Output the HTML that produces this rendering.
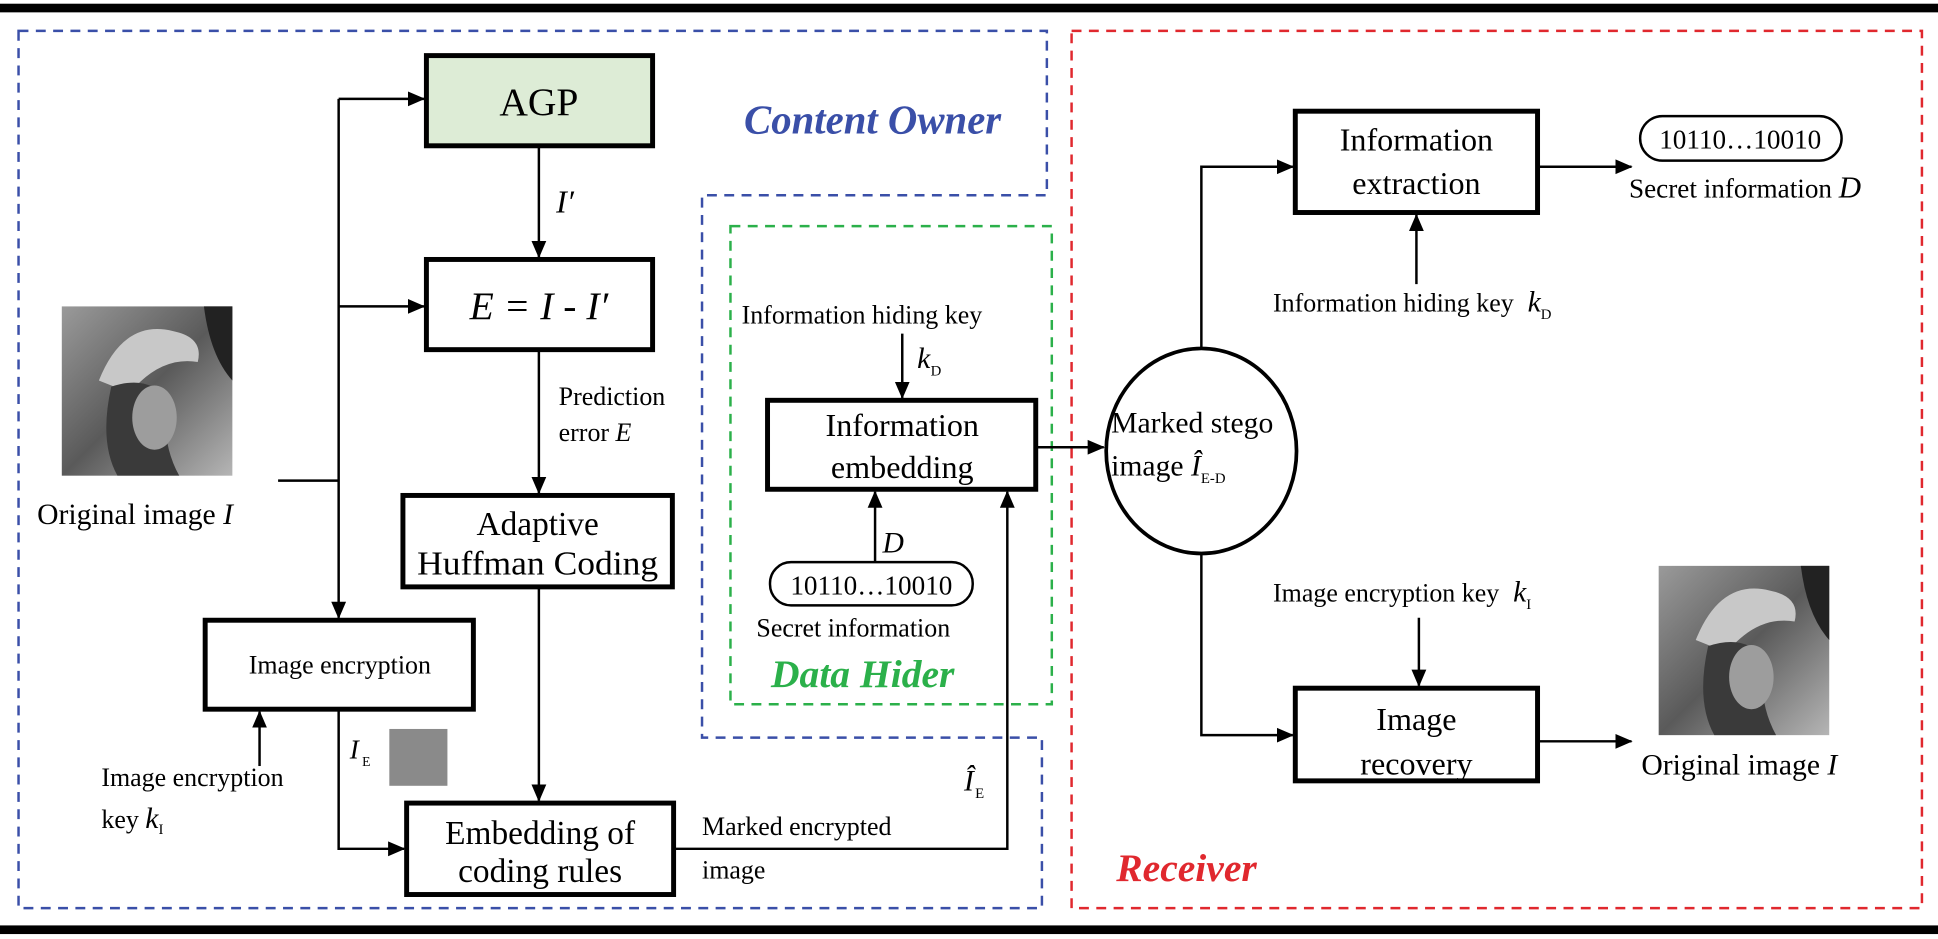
<!DOCTYPE html>
<html><head><meta charset="utf-8"><style>
html,body{margin:0;padding:0;background:#fff;}
svg{display:block;}
text{font-family:"Liberation Serif",serif;fill:#000;}
.it{font-style:italic;}
</style></head><body>
<svg width="1938" height="939" viewBox="0 0 1568 760" preserveAspectRatio="none" xmlns="http://www.w3.org/2000/svg">
<defs>
<marker id="a" markerWidth="14" markerHeight="14" refX="13" refY="7" orient="auto" markerUnits="userSpaceOnUse" viewBox="0 0 14 14"><path d="M0,1 L14,7 L0,13 z" fill="#000"/></marker>
<linearGradient id="lg" x1="0" y1="0" x2="1" y2="1"><stop offset="0" stop-color="#9a9a9a"/><stop offset="0.5" stop-color="#5a5a5a"/><stop offset="1" stop-color="#b5b5b5"/></linearGradient>
<g id="lena">
<rect x="0" y="0" width="138" height="137" fill="url(#lg)"/>
<path d="M30,60 Q50,10 90,20 Q115,25 110,45 Q80,40 55,70 Z" fill="#c8c8c8"/>
<path d="M40,65 Q30,110 45,137 L95,137 Q80,110 85,75 Q70,55 40,65Z" fill="#3a3a3a"/>
<ellipse cx="75" cy="90" rx="18" ry="26" fill="#9d9d9d"/>
<path d="M115,0 L138,0 L138,60 Q120,40 115,0Z" fill="#222"/>
</g>
</defs>
<rect x="0" y="3" width="1568" height="7" fill="#000"/>
<rect x="0" y="749" width="1568" height="7" fill="#000"/>
<path d="M15,25 H847 V158 H568 V597 H843 V735 H15 Z" fill="none" stroke="#3a4fa8" stroke-width="2" stroke-dasharray="8,6"/>
<rect x="867" y="25" width="688" height="710" fill="none" stroke="#e0282e" stroke-width="2" stroke-dasharray="8,6"/>
<rect x="591" y="183" width="260" height="387" fill="none" stroke="#2bb04a" stroke-width="2" stroke-dasharray="8,6"/>
<text x="706" y="108" font-size="33" text-anchor="middle" class="it" font-weight="bold" style="fill:#3a4fa8">Content Owner</text>
<text x="698" y="556" font-size="32" text-anchor="middle" class="it" font-weight="bold" style="fill:#2bb04a">Data Hider</text>
<text x="960" y="713" font-size="32" text-anchor="middle" class="it" font-weight="bold" style="fill:#e0282e">Receiver</text>
<g stroke="#000" stroke-width="4">
<rect x="345" y="45" width="183" height="73" fill="#ddecd6"/>
<rect x="345" y="210" width="183" height="73" fill="#fff"/>
<rect x="326" y="401" width="218" height="74" fill="#fff"/>
<rect x="166" y="502" width="217" height="72" fill="#fff"/>
<rect x="329" y="650" width="216" height="74" fill="#fff"/>
<rect x="621" y="324" width="217" height="72" fill="#fff"/>
<rect x="1048" y="90" width="196" height="82" fill="#fff"/>
<rect x="1048" y="557" width="196" height="75" fill="#fff"/>
</g>
<ellipse cx="972" cy="365" rx="77" ry="83" fill="#fff" stroke="#000" stroke-width="3"/>
<rect x="623" y="455" width="164" height="35" rx="17" fill="#fff" stroke="#000" stroke-width="2"/>
<rect x="1327" y="94" width="163" height="36" rx="18" fill="#fff" stroke="#000" stroke-width="2"/>
<use href="#lena" x="50" y="248"/>
<use href="#lena" x="1342" y="458"/>
<rect x="315" y="590" width="47" height="46" fill="#8a8a8a"/>
<g stroke="#000" stroke-width="2" fill="none">
<path d="M225,389 H274"/>
<path d="M274,80 V500" marker-end="url(#a)"/>
<path d="M274,80 H343" marker-end="url(#a)"/>
<path d="M274,248 H343" marker-end="url(#a)"/>
<path d="M436,118 V208" marker-end="url(#a)"/>
<path d="M436,283 V399" marker-end="url(#a)"/>
<path d="M436,475 V648" marker-end="url(#a)"/>
<path d="M210,620 V576" marker-end="url(#a)"/>
<path d="M274,574 V687 H327" marker-end="url(#a)"/>
<path d="M545,687 H815 V398" marker-end="url(#a)"/>
<path d="M730,270 V322" marker-end="url(#a)"/>
<path d="M708,455 V398" marker-end="url(#a)"/>
<path d="M838,362 H893" marker-end="url(#a)"/>
<path d="M972,282 V135 H1046" marker-end="url(#a)"/>
<path d="M1244,135 H1320" marker-end="url(#a)"/>
<path d="M1146,230 V174" marker-end="url(#a)"/>
<path d="M972,448 V595 H1046" marker-end="url(#a)"/>
<path d="M1148,500 V555" marker-end="url(#a)"/>
<path d="M1244,600 H1320" marker-end="url(#a)"/>
</g>
<text x="436" y="93" font-size="32" text-anchor="middle">AGP</text>
<text x="436" y="258" font-size="32" text-anchor="middle" class="it">E = I - I′</text>
<text x="450" y="172" font-size="26" class="it">I′</text>
<text x="452" y="328" font-size="21">Prediction</text>
<text x="452" y="357" font-size="21">error <tspan class="it">E</tspan></text>
<text x="435" y="433" font-size="27" text-anchor="middle">Adaptive</text>
<text x="435" y="465" font-size="27" text-anchor="middle" textLength="195" lengthAdjust="spacingAndGlyphs">Huffman Coding</text>
<text x="275" y="545" font-size="21" text-anchor="middle">Image encryption</text>
<text x="437" y="683" font-size="27" text-anchor="middle">Embedding of</text>
<text x="437" y="714" font-size="27" text-anchor="middle">coding rules</text>
<text x="30" y="424" font-size="24">Original image <tspan class="it">I</tspan></text>
<text x="82" y="636" font-size="21">Image encryption</text>
<text x="82" y="670" font-size="21">key <tspan class="it" font-size="24">k</tspan><tspan font-size="12" dy="5">I</tspan></text>
<text x="283" y="614" font-size="22" class="it">I</text><text x="293" y="620" font-size="11">E</text>
<text x="568" y="676" font-size="21">Marked encrypted</text>
<text x="568" y="711" font-size="21">image</text>
<text x="780" y="640" font-size="24" class="it">Î</text><text x="789" y="646" font-size="12">E</text>
<text x="600" y="262" font-size="21">Information hiding key</text>
<text x="742" y="298" font-size="24" class="it">k</text><text x="753" y="304" font-size="12">D</text>
<text x="730" y="353" font-size="26" text-anchor="middle">Information</text>
<text x="730" y="387" font-size="26" text-anchor="middle">embedding</text>
<text x="714" y="447" font-size="24" class="it">D</text>
<text x="705" y="481" font-size="22" text-anchor="middle">10110…10010</text>
<text x="612" y="515" font-size="21">Secret information</text>
<text x="899" y="350" font-size="24">Marked stego</text>
<text x="899" y="385" font-size="24">image <tspan class="it">Î</tspan><tspan font-size="12" dy="6">E-D</tspan></text>
<text x="1146" y="122" font-size="26" text-anchor="middle">Information</text>
<text x="1146" y="157" font-size="26" text-anchor="middle">extraction</text>
<text x="1408" y="120" font-size="22" text-anchor="middle">10110…10010</text>
<text x="1318" y="160" font-size="22">Secret information <tspan class="it" font-size="25">D</tspan></text>
<text x="1030" y="252" font-size="21">Information hiding key <tspan class="it" font-size="24" dx="6">k</tspan><tspan font-size="12" dy="6">D</tspan></text>
<text x="1030" y="487" font-size="21">Image encryption key <tspan class="it" font-size="24" dx="6">k</tspan><tspan font-size="12" dy="6">I</tspan></text>
<text x="1146" y="591" font-size="26" text-anchor="middle">Image</text>
<text x="1146" y="627" font-size="26" text-anchor="middle">recovery</text>
<text x="1328" y="627" font-size="24">Original image <tspan class="it">I</tspan></text>
</svg>
</body></html>
